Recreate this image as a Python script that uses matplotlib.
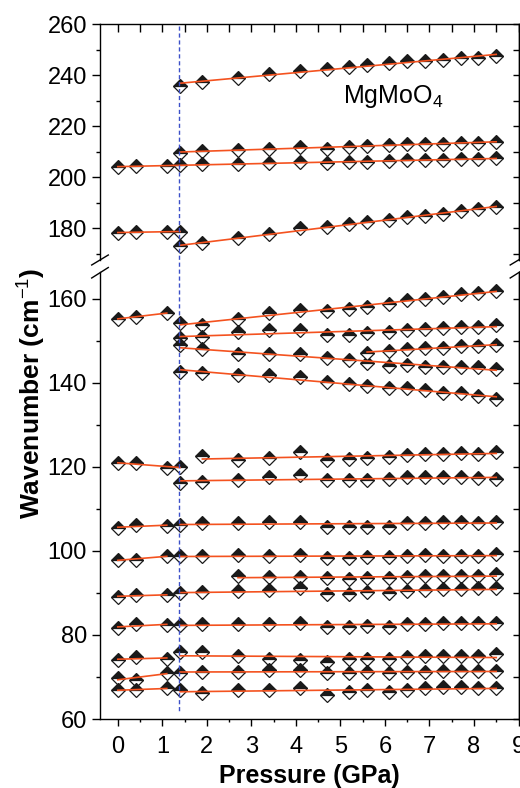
import numpy as np
import matplotlib
matplotlib.use('Agg')
import matplotlib.pyplot as plt
from matplotlib.lines import Line2D
from matplotlib.transforms import blended_transform_factory
from matplotlib.ticker import MultipleLocator

plt.rcParams['font.family'] = ['Liberation Sans', 'DejaVu Sans']
plt.rcParams['mathtext.fontset'] = 'custom'
plt.rcParams['mathtext.rm'] = 'Liberation Sans'
plt.rcParams['mathtext.it'] = 'Liberation Sans:italic'
plt.rcParams['mathtext.bf'] = 'Liberation Sans:bold'

# ---------------- data ----------------
p_all = [0, 0.4, 1.1, 1.4, 1.9, 2.7, 3.4, 4.1, 4.7, 5.2, 5.6, 6.1, 6.5, 6.9, 7.3, 7.7, 8.1, 8.5]
p_lo3 = [0, 0.4, 1.1]
p_lo4 = [0, 0.4, 1.1, 1.4]
p_hi = [1.4, 1.9, 2.7, 3.4, 4.1, 4.7, 5.2, 5.6, 6.1, 6.5, 6.9, 7.3, 7.7, 8.1, 8.5]
p_hi19 = [1.9, 2.7, 3.4, 4.1, 4.7, 5.2, 5.6, 6.1, 6.5, 6.9, 7.3, 7.7, 8.1, 8.5]
p_hi27 = [2.7, 3.4, 4.1, 4.7, 5.2, 5.6, 6.1, 6.5, 6.9, 7.3, 7.7, 8.1, 8.5]
p_hi56 = [5.6, 6.1, 6.5, 6.9, 7.3, 7.7, 8.1, 8.5]
transition_p = 1.37

# upper panel modes
mode_A = [235.8, 237.3, 239.0, 240.6, 241.6, 242.5, 243.3, 244.2, 244.8, 245.5, 245.8, 246.2, 246.8, 246.8, 247.4]
mode_B = [209.5, 210.4, 210.8, 211.3, 212.0, 211.3, 212.0, 212.1, 212.6, 213.0, 213.2, 213.0, 213.6, 213.6, 214.0]
mode_C = [203.9, 204.5, 204.3, 204.8, 205.2, 205.4, 205.6, 206.1, 205.6, 206.1, 206.1, 206.5, 206.8, 206.8, 206.9, 207.1, 207.1, 207.5]
mode_D_lo = [178.2, 178.7, 178.7, 178.7]
mode_D_hi = [172.9, 174.2, 176.1, 177.8, 180.0, 180.4, 181.7, 182.6, 183.4, 184.3, 185.0, 185.7, 186.9, 187.6, 188.5]

# lower panel modes
mode_E_lo = [155.2, 155.8, 156.6]
mode_E_hi = [154.3, 153.9, 155.2, 156.6, 157.4, 157.0, 157.6, 158.0, 158.7, 159.8, 160.0, 160.5, 161.1, 161.5, 161.9]
mode_F = [150.8, 150.9, 152.2, 152.6, 152.6, 151.4, 151.4, 151.8, 152.2, 152.6, 152.9, 153.1, 153.4, 153.4, 153.8]
mode_G = [149.0, 148.0, 146.9, 146.8, 146.8, 145.9, 145.5, 144.7, 144.1, 144.3, 143.9, 143.9, 143.9, 143.9, 143.3]
mode_H = [147.1, 147.6, 148.1, 148.4, 148.4, 148.7, 148.7, 149.0]
mode_I = [142.5, 142.4, 141.9, 141.9, 141.5, 140.1, 139.7, 139.3, 138.9, 138.7, 138.3, 137.7, 137.5, 136.9, 136.2]
mode_J_lo = [120.9, 120.9, 119.7, 120.1]
mode_J_hi = [122.5, 121.7, 122.1, 123.5, 121.7, 121.9, 122.1, 122.3, 122.9, 123.1, 123.1, 123.3, 123.1, 123.6]
mode_K = [116.1, 116.4, 116.9, 117.5, 118.1, 116.9, 116.9, 116.9, 117.1, 117.5, 117.5, 117.5, 117.5, 117.3, 117.1]
mode_L_lo = [105.4, 106.2, 106.0]
mode_L_hi = [106.2, 106.6, 106.6, 107.0, 107.0, 105.6, 105.8, 105.8, 105.8, 106.7, 106.6, 107.0, 107.0, 106.7, 107.0]
mode_M_lo = [97.9, 97.9, 98.8]
mode_M_hi = [98.8, 98.8, 99.0, 98.8, 99.0, 98.3, 98.3, 98.5, 98.5, 98.9, 99.0, 98.9, 98.9, 98.9, 99.3]
mode_N = [94.0, 93.9, 93.9, 93.5, 93.3, 93.5, 93.6, 93.9, 94.0, 94.0, 94.0, 94.0, 94.4]
mode_O_lo = [89.1, 89.5, 89.5]
mode_O_hi = [89.9, 90.3, 90.5, 90.7, 91.1, 89.8, 89.8, 90.3, 90.1, 90.5, 90.7, 90.9, 90.9, 91.1, 91.1]
mode_P_lo = [81.7, 82.5, 82.4]
mode_P_hi = [82.4, 82.5, 82.5, 82.6, 82.8, 81.8, 82.0, 82.2, 82.0, 82.6, 82.6, 82.9, 82.8, 82.8, 82.9]
mode_Q_lo = [74.0, 74.7, 74.4]
mode_Q_hi = [76.0, 76.0, 75.1, 74.4, 74.0, 73.6, 74.3, 74.4, 74.4, 74.8, 74.9, 74.9, 75.0, 75.0, 75.4]
mode_R_lo = [69.7, 69.3, 71.0]
mode_R_hi = [70.9, 71.3, 71.3, 71.7, 71.7, 70.9, 70.9, 71.1, 70.9, 71.3, 71.3, 71.4, 71.4, 71.4, 71.4]
mode_S_lo = [66.9, 66.9, 67.3]
mode_S_hi = [66.9, 66.3, 66.9, 66.9, 67.3, 65.7, 66.5, 66.9, 66.5, 66.9, 67.3, 67.7, 67.5, 67.3, 67.3]

top_branches = [(p_hi, mode_A), (p_hi, mode_B), (p_all, mode_C),
                (p_lo4, mode_D_lo), (p_hi, mode_D_hi)]
bottom_branches = [(p_lo3, mode_E_lo), (p_hi, mode_E_hi), (p_hi, mode_F), (p_hi, mode_G),
                   (p_hi56, mode_H), (p_hi, mode_I), (p_lo4, mode_J_lo), (p_hi19, mode_J_hi),
                   (p_hi, mode_K), (p_lo3, mode_L_lo), (p_hi, mode_L_hi),
                   (p_lo3, mode_M_lo), (p_hi, mode_M_hi), (p_hi27, mode_N),
                   (p_lo3, mode_O_lo), (p_hi, mode_O_hi), (p_lo3, mode_P_lo), (p_hi, mode_P_hi),
                   (p_lo3, mode_Q_lo), (p_hi, mode_Q_hi), (p_lo3, mode_R_lo), (p_hi, mode_R_hi),
                   (p_lo3, mode_S_lo), (p_hi, mode_S_hi)]

# ---------------- figure ----------------
W, H = 520, 788
fig = plt.figure(figsize=(W / 100, H / 100), dpi=100)
xl, xr = 100 / W, 518.5 / W
ax_t = fig.add_axes([xl, (H - 260) / H, xr - xl, (260 - 24.3) / H])
ax_b = fig.add_axes([xl, (H - 719) / H, xr - xl, (719 - 272) / H])

RED = '#f4521f'
DARK = '#1a1a1a'
for ax, branches in ((ax_t, top_branches), (ax_b, bottom_branches)):
    for p, w in branches:
        ax.plot(p, w, ls='none', marker='D', ms=7.5, mfc=DARK, mfcalt='white',
                mec=DARK, mew=0.9, fillstyle='top', zorder=3)
        k, b = np.polyfit(p, w, 1)
        xs = np.array([p[0], p[-1]])
        ax.plot(xs, k * xs + b, color=RED, lw=1.2, zorder=4)

ax_t.set_xlim(-0.4, 9.0)
ax_b.set_xlim(-0.4, 9.0)
ax_t.set_ylim(167.6, 260)
ax_b.set_ylim(60, 166.4)

for ax in (ax_t, ax_b):
    for s in ax.spines.values():
        s.set_linewidth(1.0)
    ax.yaxis.set_major_locator(MultipleLocator(20))
    ax.yaxis.set_minor_locator(MultipleLocator(10))
    ax.tick_params(axis='y', which='major', direction='out', length=5.8, width=1,
                   labelsize=17, pad=3.5)
    ax.tick_params(axis='y', which='minor', direction='out', length=2.9, width=1)
    sec = ax.secondary_yaxis('right')
    sec.yaxis.set_major_locator(MultipleLocator(10))
    sec.tick_params(axis='y', which='both', direction='in', length=4, width=1,
                    labelright=False)
    sec.spines['right'].set_linewidth(1.0)

ax_t.spines['bottom'].set_visible(False)
ax_b.spines['top'].set_visible(False)

ax_t.xaxis.set_major_locator(MultipleLocator(0.5))
ax_t.tick_params(axis='x', which='both', bottom=False, labelbottom=False, top=True,
                 direction='in', length=5.5, width=1)

ax_b.xaxis.set_major_locator(MultipleLocator(1))
ax_b.xaxis.set_minor_locator(MultipleLocator(0.5))
ax_b.tick_params(axis='x', which='major', direction='out', length=5, width=1,
                 labelsize=17, pad=7)
ax_b.tick_params(axis='x', which='minor', direction='out', length=2.5, width=1)

# break marks
def px(x, y):
    return x / W, 1 - y / H

for x0 in (100, 518.5):
    for (ya, yb) in ((265, 255), (278, 267.5)):
        (fx0, fy0), (fx1, fy1) = px(x0 - 8.3, ya), px(x0 + 8.3, yb)
        fig.add_artist(Line2D([fx0, fx1], [fy0, fy1], color='black', lw=1.0))

# transition line
trans = blended_transform_factory(ax_b.transData, fig.transFigure)
fig.add_artist(Line2D([transition_p, transition_p], [1 - 26 / H, 1 - 713 / H],
                      transform=trans, color='#3c50c8', lw=1.0, ls=(0, (3, 2))))

ax_t.text(5.05, 229, 'MgMoO$_4$', fontsize=18, va='baseline', ha='left')

fig.text(32 / W, 1 - 393 / H, 'Wavenumber (cm$^{-1}$)', rotation=90, ha='center',
         va='center', fontsize=19, fontweight='bold')
fig.text(309 / W, 1 - 783 / H, 'Pressure (GPa)', ha='center', va='baseline',
         fontsize=18, fontweight='bold')

fig.savefig('out.png', dpi=100)
